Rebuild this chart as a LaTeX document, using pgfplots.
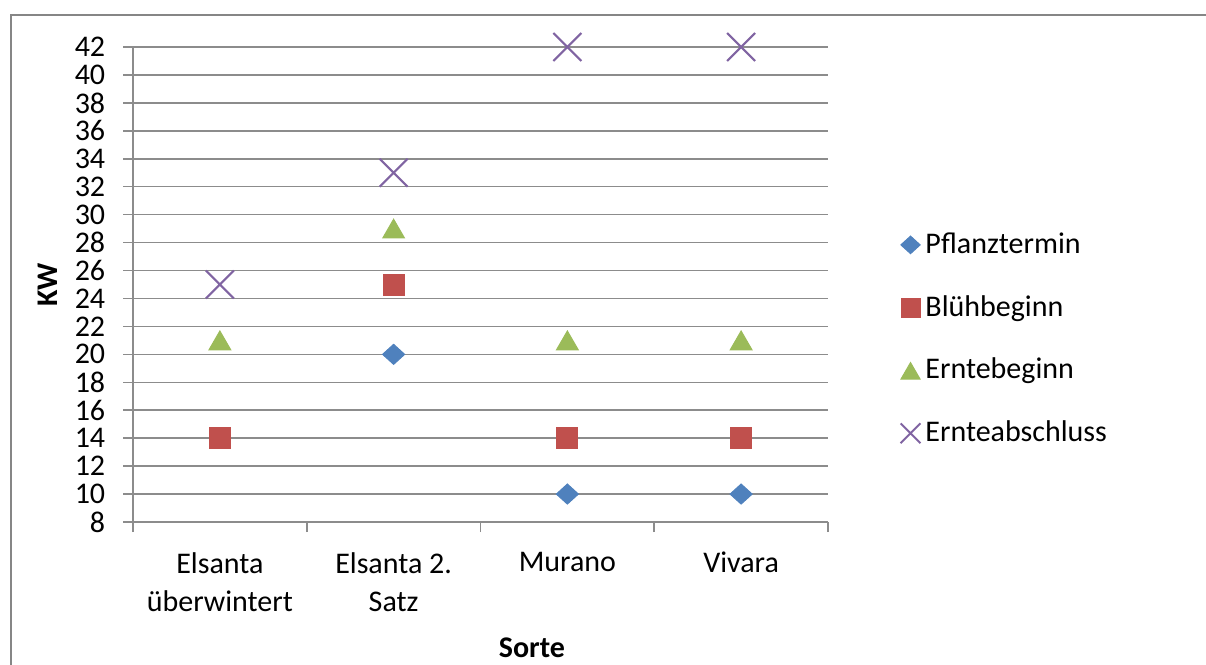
\documentclass[border=0pt]{standalone}
\usepackage{pgfplots}
\pgfplotsset{compat=1.18}
\usepackage{fontspec}
\setmainfont{Carlito}
\definecolor{cblue}{HTML}{4F81BD}
\definecolor{cred}{HTML}{C0504D}
\definecolor{cgreen}{HTML}{9BBB59}
\definecolor{cpurple}{HTML}{8064A2}
\definecolor{gridgray}{RGB}{140,140,140}
\definecolor{framegray}{RGB}{134,134,134}
\begin{document}
\begin{tikzpicture}[x=1pt,y=1pt]
\path[use as bounding box] (0,0) rectangle (482.4,265.6);
\draw[color=framegray, line width=1pt] (4.4,-5) -- (4.4,259.6) -- (490,259.6);
\begin{axis}[
  at={(53.2pt,56.8pt)}, anchor=south west,
  scale only axis, width=278pt, height=190pt,
  xmin=-0.5, xmax=3.5, ymin=8, ymax=42,
  ytick={8,10,...,42},
  xtick={-0.5,0.5,1.5,2.5,3.5},
  xticklabels={{Elsanta\\überwintert},{Elsanta 2.\\Satz},Murano,Vivara},
  x tick label as interval,
  axis x line*=bottom, axis y line*=left,
  axis line style={-, color=gridgray, line width=0.6pt},
  ymajorgrids, grid style={color=gridgray, line width=0.6pt},
  tick align=outside, major tick length=4pt,
  tick style={color=gridgray, line width=0.6pt},
  /pgf/number format/assume math mode=true,
  yticklabel style={font=\fontsize{12}{14}\selectfont, xshift=-3.6pt},
  xticklabel style={font=\fontsize{12}{15.2}\selectfont, align=center, yshift=-4.6pt},
  ylabel={KW}, xlabel={Sorte},
  ylabel style={font=\fontsize{12}{14}\selectfont\bfseries, at={(axis description cs:0,0.5)}, yshift=34pt, anchor=center},
  xlabel style={font=\fontsize{12}{14}\selectfont\bfseries, at={(axis description cs:0.574,0)}, yshift=-50.4pt, anchor=center},
  clip=false,
  legend style={at={(axis description cs:1.093,0.385)}, anchor=west, draw=none, fill=none,
    font=\fontsize{12}{14}\selectfont, row sep=11.3pt},
  legend cell align=left,
  legend image code/.code={\draw[mark repeat=2,mark phase=2,#1] plot coordinates {(0cm,0cm) (0.11cm,0cm) (0.33cm,0cm)};},
]
\addplot[only marks, mark=diamond*, mark size=4pt, mark options={xscale=1.47, fill=cblue, draw=cblue}, legend image post style={mark size=3.5pt}] coordinates {(1,20) (2,10) (3,10)};
\addlegendentry{Pflanztermin}
\addplot[only marks, mark=square*, mark size=4.2pt, mark options={fill=cred, draw=cred}, legend image post style={mark size=3.8pt}] coordinates {(0,14) (1,25) (2,14) (3,14)};
\addlegendentry{Blühbeginn}
\addplot[only marks, mark=triangle*, mark size=5pt, mark options={yshift=-1.25pt, fill=cgreen, draw=cgreen}, legend image post style={mark size=4.4pt}] coordinates {(0,21) (1,29) (2,21) (3,21)};
\addlegendentry{Erntebeginn}
\addplot[only marks, mark=x, mark size=7.9pt, mark options={draw=cpurple, line width=0.8pt}, legend image post style={mark size=5.6pt}] coordinates {(0,25) (1,33) (2,42) (3,42)};
\addlegendentry{Ernteabschluss}
\end{axis}
\end{tikzpicture}
\end{document}
